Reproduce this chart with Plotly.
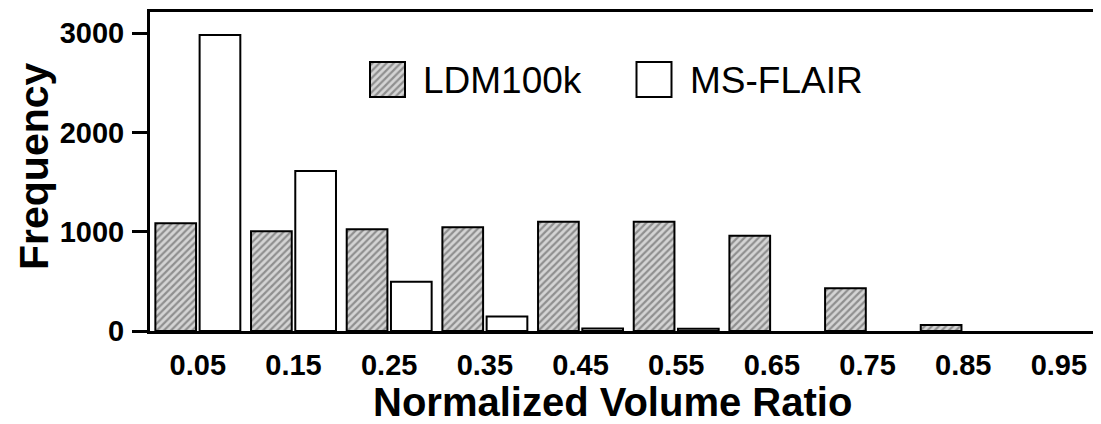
import plotly.graph_objects as go

# ---- data ----
bin_centers = [0.05, 0.15, 0.25, 0.35, 0.45, 0.55, 0.65, 0.75, 0.85, 0.95]
tick_labels = ["0.05", "0.15", "0.25", "0.35", "0.45", "0.55", "0.65", "0.75", "0.85", "0.95"]
ldm100k = [1085, 1005, 1025, 1045, 1100, 1100, 960, 430, 60, 0]
ms_flair = [2980, 1610, 495, 145, 25, 22, 0, 0, 0, 0]
series_names = ["LDM100k", "MS-FLAIR"]
y_ticks = [0, 1000, 2000, 3000]

FONT = "Liberation Sans, Arial, Helvetica, sans-serif"
hatch = dict(shape="/", bgcolor="#d4d4d4", fgcolor="#4a4a4a", size=5, solidity=0.45)


def outline(values):
    # empty bins get no outline (nothing drawn on the axis)
    return dict(color="black", width=[2 if v > 0 else 0 for v in values])


fig = go.Figure()
fig.add_trace(go.Bar(x=bin_centers, y=ldm100k, name=series_names[0],
                     marker=dict(color="#d4d4d4", pattern=hatch, line=outline(ldm100k))))
fig.add_trace(go.Bar(x=bin_centers, y=ms_flair, name=series_names[1],
                     marker=dict(color="white", line=outline(ms_flair))))

# legend swatches drawn as bars on small overlay axes
sw_line = dict(color="black", width=2)
fig.add_trace(go.Bar(x=[0], y=[1], width=[1], xaxis="x2", yaxis="y2", showlegend=False,
                     hoverinfo="skip",
                     marker=dict(color="#d4d4d4", pattern=hatch, line=sw_line)))
fig.add_trace(go.Bar(x=[0], y=[1], width=[1], xaxis="x3", yaxis="y3", showlegend=False,
                     hoverinfo="skip",
                     marker=dict(color="white", line=sw_line)))

# page body has an 8px default margin: figure is sized to fit the window
OFF = 8
W, H = 1101 - OFF, 424 - OFF
# plot area in page pixels: left 150, right 1101, top 12, bottom 331
L, R, T, B = 150 - OFF, 0, 12 - OFF, 424 - 331
pw, ph = W - L - R, H - T - B


def px(x):  # page pixel -> paper x
    return (x - OFF - L) / pw


def py(y):  # page pixel -> paper y
    return (H - B - (y - OFF)) / ph


def box_domain(cx, cy, size=35):
    hx = size * 1.1 / 2 / pw
    hy = size * 1.1 / 2 / ph
    return [px(cx) - hx, px(cx) + hx], [py(cy) - hy, py(cy) + hy]


d2x, d2y = box_domain(387.5, 79.5)
d3x, d3y = box_domain(654, 79.5)

hidden = dict(visible=False, fixedrange=True)
fig.update_layout(
    width=W, height=H,
    margin=dict(l=L, r=R, t=T, b=B, autoexpand=False),
    paper_bgcolor="white", plot_bgcolor="white",
    barmode="group", bargap=0.075, bargroupgap=0.08,
    showlegend=False,
    font=dict(family=FONT, color="black"),
    xaxis=dict(range=[0, 0.994], tickvals=bin_centers, ticktext=tick_labels,
               showline=True, linecolor="black", linewidth=3, mirror=True,
               ticks="", showgrid=False, zeroline=False,
               tickfont=dict(family=FONT, size=29, weight="bold"),
               ticklabelstandoff=6),
    yaxis=dict(range=[0, 3212], tickvals=y_ticks,
               showline=True, linecolor="black", linewidth=3,
               ticks="outside", ticklen=15, tickwidth=3, tickcolor="black",
               showgrid=False, zeroline=False,
               tickfont=dict(family=FONT, size=29, weight="bold"),
               ticklabelstandoff=2),
    xaxis2=dict(domain=d2x, range=[-0.55, 0.55], anchor="y2", **hidden),
    yaxis2=dict(domain=d2y, range=[-0.05, 1.05], anchor="x2", **hidden),
    xaxis3=dict(domain=d3x, range=[-0.55, 0.55], anchor="y3", **hidden),
    yaxis3=dict(domain=d3y, range=[-0.05, 1.05], anchor="x3", **hidden),
    annotations=[
        dict(text=series_names[0], x=px(421), y=py(80), xref="paper", yref="paper",
             xanchor="left", yanchor="middle", showarrow=False,
             font=dict(family=FONT, size=37)),
        dict(text=series_names[1], x=px(688), y=py(80), xref="paper", yref="paper",
             xanchor="left", yanchor="middle", showarrow=False,
             font=dict(family=FONT, size=37)),
        dict(text="Normalized Volume Ratio", x=px(612), y=py(402), xref="paper", yref="paper",
             xanchor="center", yanchor="middle", showarrow=False,
             font=dict(family=FONT, size=40, weight="bold")),
        dict(text="Frequency", x=px(34), y=py(166), xref="paper", yref="paper",
             xanchor="center", yanchor="middle", showarrow=False, textangle=-90,
             font=dict(family=FONT, size=41, weight="bold")),
    ],
)

fig.write_html("out.html")
